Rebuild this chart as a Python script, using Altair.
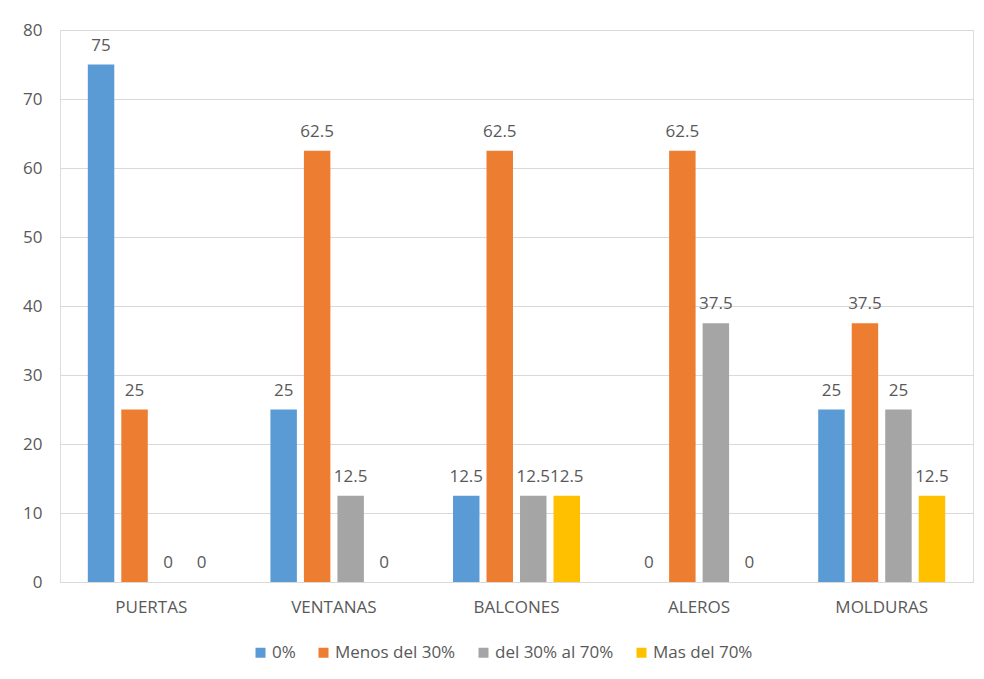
import altair as alt
import pandas as pd

categories = ["PUERTAS", "VENTANAS", "BALCONES", "ALEROS", "MOLDURAS"]
series = ["0%", "Menos del 30%", "del 30% al 70%", "Mas del 70%"]
v_0 = [75, 25, 12.5, 0, 25]
v_menos30 = [25, 62.5, 62.5, 62.5, 37.5]
v_30_70 = [0, 12.5, 12.5, 37.5, 25]
v_mas70 = [0, 0, 12.5, 0, 12.5]
colors = ["#5B9BD5", "#ED7D31", "#A5A5A5", "#FFC000"]

rows = []
for s, vals in zip(series, [v_0, v_menos30, v_30_70, v_mas70]):
    for c, v in zip(categories, vals):
        rows.append({"cat": c, "serie": s, "val": v, "lab": f"{v:g}"})
df = pd.DataFrame(rows)

FONT = "Open Sans"
TXT = "#595959"
GRID = "#D9D9D9"
FS = 17

base = alt.Chart(df).encode(
    x=alt.X("cat:N", sort=categories, title=None,
            scale=alt.Scale(paddingInner=0, paddingOuter=0),
            axis=alt.Axis(labelAngle=0, ticks=False, domain=True, domainColor=GRID,
                          labelFont=FONT, labelFontSize=FS, labelColor=TXT,
                          labelPadding=17, grid=False)),
    xOffset=alt.XOffset("serie:N", sort=series,
                        scale=alt.Scale(paddingInner=0.21, paddingOuter=0.83)),
    y=alt.Y("val:Q", title=None,
            scale=alt.Scale(domain=[0, 80], nice=False),
            axis=alt.Axis(values=list(range(0, 81, 10)), ticks=False, domain=False,
                          gridColor=GRID, gridWidth=1, labelFont=FONT,
                          labelFontSize=FS, labelColor=TXT, labelPadding=18)),
)

bars = base.mark_bar().encode(
    color=alt.Color("serie:N", sort=series,
                    scale=alt.Scale(domain=series, range=colors),
                    legend=alt.Legend(title=None, orient="none", direction="horizontal",
                                      legendX=192, legendY=614,
                                      symbolType="square", symbolSize=100,
                                      symbolStrokeWidth=0, labelFont=FONT,
                                      labelFontSize=FS, labelColor=TXT,
                                      labelOffset=3, columnPadding=19))
)

texts = base.mark_text(baseline="alphabetic", dy=-14, font=FONT, fontSize=FS,
                       color=TXT).encode(text="lab:N")

border_df = pd.DataFrame({"k": [0]})
top_border = alt.Chart(border_df).mark_rule(color=GRID, strokeWidth=2).encode(
    x=alt.value(-53), x2=alt.value(940), y=alt.value(-24))
left_border = alt.Chart(border_df).mark_rule(color=GRID, strokeWidth=2).encode(
    x=alt.value(-53), y=alt.value(-24), y2=alt.value(700))

chart = alt.layer(top_border, left_border, bars, texts).properties(
    width=913, height=552,
    autosize=alt.AutoSizeParams(type="none"),
    padding={"left": 52, "top": 22, "right": 3, "bottom": 89},
).configure_view(stroke=None).configure(background="white")

chart.save("out.html", embed_options={"renderer": "svg", "actions": False})
